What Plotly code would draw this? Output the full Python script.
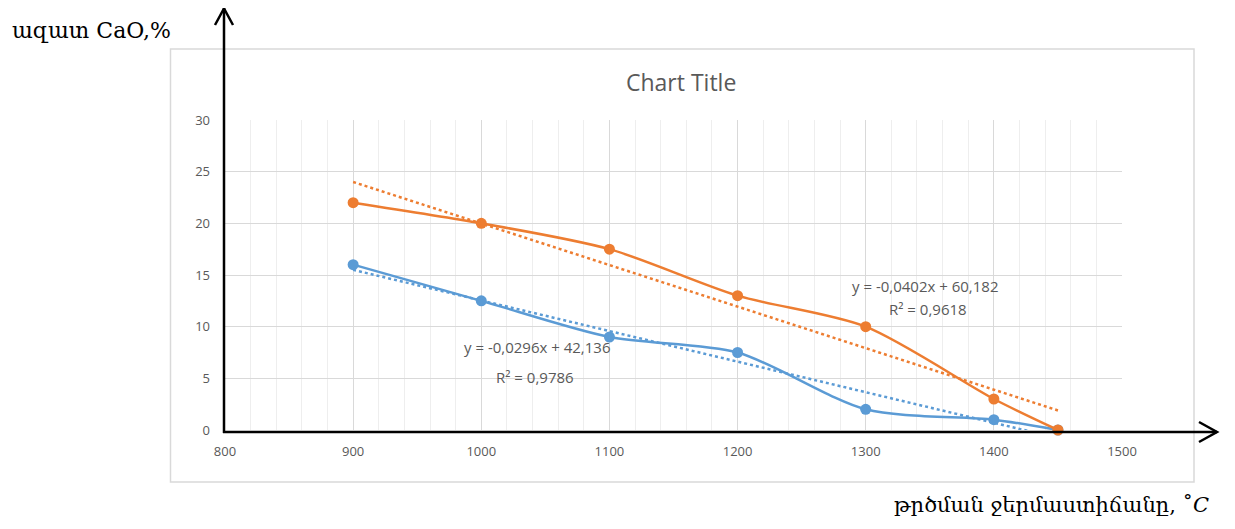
import plotly.graph_objects as go

# ---- data ----
temps = [900, 1000, 1100, 1200, 1300, 1400, 1450]
cao_orange = [22, 20, 17.5, 13, 10, 3, 0]
cao_blue = [16, 12.5, 9, 7.5, 2, 1, 0]
trend_orange = (-0.0402, 60.182)
trend_blue = (-0.0296, 42.136)
eq_orange = ["y = -0,0402x + 60,182", "R² = 0,9618"]
eq_blue = ["y = -0,0296x + 42,136", "R² = 0,9786"]
x_ticks = [800, 900, 1000, 1100, 1200, 1300, 1400, 1500]
y_ticks = [0, 5, 10, 15, 20, 25, 30]
title_text = "Chart Title"
y_label = "ազատ CaO,%"
x_label = "թրծման ջերմաստիճանը, ˚<i>C</i>"

ORANGE = "#ED7D31"
BLUE = "#5B9BD5"
GREY = "#595959"

# page body has an 8px margin; work in screen pixels and shift
OFF = 8
W, H = 1235 - 2 * OFF, 529 - 2 * OFF
L, R, T, B = 225, 1122, 120, 430  # screen pixels of plot area


def px(x, y):
    return (x - L) / (R - L), (B - y) / (B - T)


fig = go.Figure()

for ys, col in [(cao_blue, BLUE), (cao_orange, ORANGE)]:
    fig.add_trace(go.Scatter(
        x=temps, y=ys, mode="lines+markers",
        line=dict(color=col, width=2.5, shape="spline", smoothing=0.8),
        marker=dict(color=col, size=11),
        cliponaxis=False, showlegend=False))

for (m, c), col in [(trend_blue, BLUE), (trend_orange, ORANGE)]:
    xs = [temps[0], temps[-1]]
    fig.add_trace(go.Scatter(
        x=xs, y=[m * v + c for v in xs], mode="lines",
        line=dict(color=col, width=2.5, dash="dot"),
        showlegend=False))

annotations = []
def add_text(text, x, y, size, color=GREY, family="Open Sans", xanchor="center"):
    xp, yp = px(x, y)
    annotations.append(dict(text=text, x=xp, y=yp, xref="paper", yref="paper",
                            showarrow=False, xanchor=xanchor, yanchor="middle",
                            font=dict(size=size, color=color, family=family)))

add_text(eq_orange[0], 924.5, 286, 15)
add_text(eq_orange[1], 927.5, 309, 15)
add_text(eq_blue[0], 537, 347, 15)
add_text(eq_blue[1], 535, 377, 15)
add_text(title_text, 681, 82, 23)
add_text(y_label, 91, 30, 22, color="black", family="DejaVu Serif")
add_text(x_label, 1051, 505, 21, color="black", family="DejaVu Serif")

shapes = []
def add_path(points, color, width):
    d = ""
    for i, (x, y) in enumerate(points):
        xp, yp = px(x, y)
        d += ("M" if i == 0 else "L") + f"{xp},{yp} "
    shapes.append(dict(type="path", path=d.strip(), xref="paper", yref="paper",
                       line=dict(color=color, width=width), layer="above"))

# chart area border
x0, y0 = px(170.5, 49)
x1, y1 = px(1194, 482)
shapes.append(dict(type="rect", x0=x0, y0=y1, x1=x1, y1=y0, xref="paper", yref="paper",
                   line=dict(color="#D9D9D9", width=1.5), layer="below"))
# axes arrows
add_path([(224, 433), (224, 8)], "black", 2.5)
add_path([(215, 25), (224, 8.5), (233, 25)], "black", 2.5)
add_path([(223, 432), (1217, 432)], "black", 2.5)
add_path([(1199, 422), (1217, 432), (1199, 442)], "black", 2.5)

fig.update_layout(
    width=W, height=H,
    margin=dict(l=L - OFF, r=W - (R - OFF), t=T - OFF, b=H - (B - OFF), pad=0),
    paper_bgcolor="white", plot_bgcolor="white",
    annotations=annotations, shapes=shapes,
    xaxis=dict(range=[800, 1500], tickvals=x_ticks, showgrid=True,
               gridcolor="#D9D9D9", gridwidth=1, zeroline=False, showline=False,
               tickfont=dict(family="Open Sans", size=13, color=GREY),
               ticks="", ticklabelstandoff=12,
               minor=dict(dtick=20, showgrid=True, gridcolor="#EEEEEE", gridwidth=1)),
    yaxis=dict(range=[0, 30], tickvals=y_ticks, showgrid=True,
               gridcolor="#D9D9D9", gridwidth=1, zeroline=False, showline=False,
               tickfont=dict(family="Open Sans", size=13, color=GREY),
               ticks="", ticklabelstandoff=14),
)

fig.write_html("out.html")
